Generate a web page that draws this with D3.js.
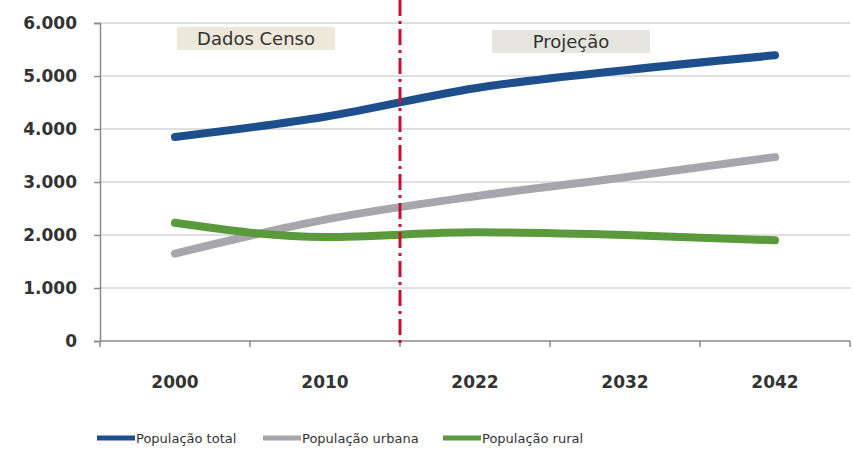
<!DOCTYPE html>
<html>
<head>
<meta charset="utf-8">
<script src="https://cdn.jsdelivr.net/npm/d3@7"></script>
<style>
  body { margin: 0; background: #fff; }
  text { font-family: Tahoma, "DejaVu Sans", Verdana, sans-serif; }
</style>
</head>
<body>
<svg id="chart" width="853" height="466"></svg>
<script>
// chart data
let years = ["2000", "2010", "2022", "2032", "2042"];
let popTotal = [3850, 4230, 4770, 5110, 5390];
let popUrbana = [1650, 2290, 2730, 3090, 3470];
let popRural = [2230, 1960, 2050, 2000, 1900];
let yTicks = [0, 1000, 2000, 3000, 4000, 5000, 6000];
let seriesNames = ["População total", "População urbana", "População rural"];
let seriesColors = ["#1c4f8c", "#a6a6ac", "#5b9a3c"];

let margin = {top: 23, right: 3, bottom: 125, left: 100},
    width = 853 - margin.left - margin.right,
    height = 466 - margin.top - margin.bottom;

let svg = d3.select("#chart");
let g = svg.append("g")
  .attr("transform", "translate(" + margin.left + "," + margin.top + ")");

let x = d3.scaleBand().domain(years).range([0, width]);
let y = d3.scaleLinear().domain([0, 6000]).range([height, 0]);

let fmt = function(d) { return d3.format(",")(d).replace(/,/g, "."); };

// grid lines
g.selectAll(".grid")
  .data(yTicks.filter(function(d) { return d > 0; }))
  .enter().append("line")
  .attr("x1", 0).attr("x2", width)
  .attr("y1", function(d) { return y(d); })
  .attr("y2", function(d) { return y(d); })
  .attr("stroke", "#d6d6d6")
  .attr("stroke-width", 1.5);

// y axis
let yAxis = d3.axisLeft(y).tickValues(yTicks).tickFormat(fmt).tickSize(6).tickPadding(17);
let yG = g.append("g").call(yAxis);
yG.select(".domain").attr("stroke", "#8a8a8a").attr("stroke-width", 1.5);
yG.selectAll(".tick line").attr("stroke", "#8a8a8a").attr("stroke-width", 1.5);
yG.selectAll(".tick text")
  .attr("fill", "#333")
  .style("font-size", "17px")
  .style("font-weight", "bold");

// x axis with ticks at band boundaries
let xG = g.append("g").attr("transform", "translate(0," + height + ")");
xG.append("line")
  .attr("x1", 0).attr("x2", width)
  .attr("stroke", "#8a8a8a").attr("stroke-width", 1.5);
let bounds = years.map(function(d) { return x(d); }).concat([width]);
xG.selectAll(".xt")
  .data(bounds)
  .enter().append("line")
  .attr("x1", function(d) { return d; })
  .attr("x2", function(d) { return d; })
  .attr("y1", 0).attr("y2", 6)
  .attr("stroke", "#8a8a8a").attr("stroke-width", 1.5);
xG.selectAll(".xl")
  .data(years)
  .enter().append("text")
  .attr("x", function(d) { return x(d) + x.bandwidth() / 2; })
  .attr("y", 47)
  .attr("text-anchor", "middle")
  .attr("fill", "#333")
  .style("font-size", "17px")
  .style("font-weight", "bold")
  .text(function(d) { return d; });

// label boxes
let boxes = [
  {label: "Dados Censo", cx: x("2000") + x.bandwidth() + 6},
  {label: "Projeção", cx: x("2032") + 21}
];
boxes.forEach(function(b, i) {
  let bw = 158, bh = 23;
  let by = i == 0 ? 4 : 7;
  g.append("rect")
    .attr("x", b.cx - bw / 2).attr("y", by)
    .attr("width", bw).attr("height", bh)
    .attr("fill", i == 0 ? "#ede8da" : "#e7e6de");
  g.append("text")
    .attr("x", b.cx).attr("y", by + 18)
    .attr("text-anchor", "middle")
    .attr("fill", "#333")
    .style("font-size", "18px")
    .text(b.label);
});

// lines
let line = d3.line()
  .x(function(d, i) { return x(years[i]) + x.bandwidth() / 2; })
  .y(function(d) { return y(d); })
  .curve(d3.curveMonotoneX);

[popTotal, popUrbana, popRural].forEach(function(s, i) {
  g.append("path")
    .datum(s)
    .attr("fill", "none")
    .attr("stroke", seriesColors[i])
    .attr("stroke-width", 8)
    .attr("stroke-linecap", "round")
    .attr("stroke-linejoin", "round")
    .attr("d", line);
});

// divider between census and projection
let divX = x("2022");
g.append("line")
  .attr("x1", divX).attr("x2", divX)
  .attr("y1", -margin.top).attr("y2", height + 4)
  .attr("stroke", "#c41236")
  .attr("stroke-width", 3)
  .attr("stroke-dasharray", "16,5,3,5");

// legend
let legendX = [97, 263, 443];
let legend = svg.append("g").attr("transform", "translate(0,438)");
seriesNames.forEach(function(name, i) {
  legend.append("line")
    .attr("x1", legendX[i]).attr("x2", legendX[i] + 38)
    .attr("y1", 0).attr("y2", 0)
    .attr("stroke", seriesColors[i])
    .attr("stroke-width", 5);
  legend.append("text")
    .attr("x", legendX[i] + 39).attr("y", 5)
    .attr("fill", "#333")
    .style("font-size", "13px")
    .text(name);
});
</script>
</body>
</html>
